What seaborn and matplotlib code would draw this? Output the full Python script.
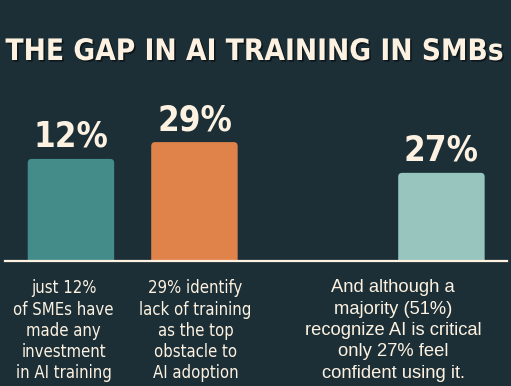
import numpy as np
import pandas as pd
import matplotlib.pyplot as plt
import seaborn as sns
import matplotlib.patheffects as pe
from matplotlib.patches import FancyBboxPatch

# data
title = "THE GAP IN AI TRAINING IN SMBs"
labels = ["12%", "29%", "27%"]
slots = [0, 1, 3]                      # third bar sits one slot further right
bar_heights = [24.9, 29.0, 21.5]       # drawn heights (not proportional to the labels)
bar_colors = ["#438c8a", "#e0834b", "#98c6bf"]
captions = [
    "just 12%\nof SMEs have\nmade any\ninvestment\nin AI training",
    "29% identify\nlack of training\nas the top\nobstacle to\nAI adoption",
    "And although a\nmajority (51%)\nrecognize AI is critical\nonly 27% feel\nconfident using it.",
]

bg = "#1c2f37"
cream = "#fdf2e1"

sns.set_theme(style="white")
plt.rcParams["font.family"] = ["DejaVu Sans"]

fig = plt.figure(figsize=(5.11, 3.86), dpi=100, facecolor=bg)
ax = fig.add_axes([5 / 511, 125 / 386, 502 / 511, 164 / 386])
ax.set_facecolor(bg)

df = pd.DataFrame({"slot": slots, "height": bar_heights, "label": labels})
sns.barplot(data=df, x="slot", y="height", hue="label", hue_order=labels,
            palette=bar_colors, native_scale=True, width=0.7, saturation=1,
            legend=False, ax=ax)

ax.set_xlim(-0.534, 3.531)
ax.set_ylim(0, 40)

# rounded tops: swap each seaborn bar for a rounded box, bottom clipped by the axes
px_x, px_y = 123.5, 4.1
for bar in list(ax.patches):
    x0, w, h = bar.get_x(), bar.get_width(), bar.get_height()
    rb = FancyBboxPatch((x0, -3), w, h + 3,
                        boxstyle="round,pad=0,rounding_size=0.032",
                        mutation_aspect=px_x / px_y,
                        fc=bar.get_facecolor(), ec="none")
    ax.add_patch(rb)
    bar.set_visible(False)

for s in ["left", "right", "top"]:
    ax.spines[s].set_visible(False)
ax.spines["bottom"].set_color(cream)
ax.spines["bottom"].set_linewidth(1.6)
ax.set_xticks([])
ax.set_yticks([])
ax.set(xlabel="", ylabel="")

for s, h, lab in zip(slots, bar_heights, labels):
    ax.annotate(lab, (s, h), xytext=(0, 8.6), textcoords="offset points",
                ha="center", va="baseline", color=cream, fontsize=25,
                fontweight="bold", fontstretch="condensed")

cap_x = [-0.06, 1.01, 2.61]
for i, (cx, cap) in enumerate(zip(cap_x, captions)):
    if i < 2:
        kw = dict(fontsize=12, fontstretch="condensed", linespacing=1.22)
    else:
        kw = dict(fontsize=13.2, family=["Liberation Sans", "DejaVu Sans"], linespacing=1.33)
    ax.annotate(cap, (cx, 0), xytext=(0, -13.3), textcoords="offset points",
                ha="center", va="top", multialignment="center",
                color=cream, annotation_clip=False, **kw)

fig.text(0.5, (386 - 60) / 386, title, ha="center", va="baseline",
         color=cream, fontsize=21.3, fontweight="bold", fontstretch="condensed",
         path_effects=[pe.withSimplePatchShadow(offset=(1.2, -1.2),
                                                shadow_rgbFace="black", alpha=0.5)])

fig.savefig("out.png", dpi=100, facecolor=bg)
